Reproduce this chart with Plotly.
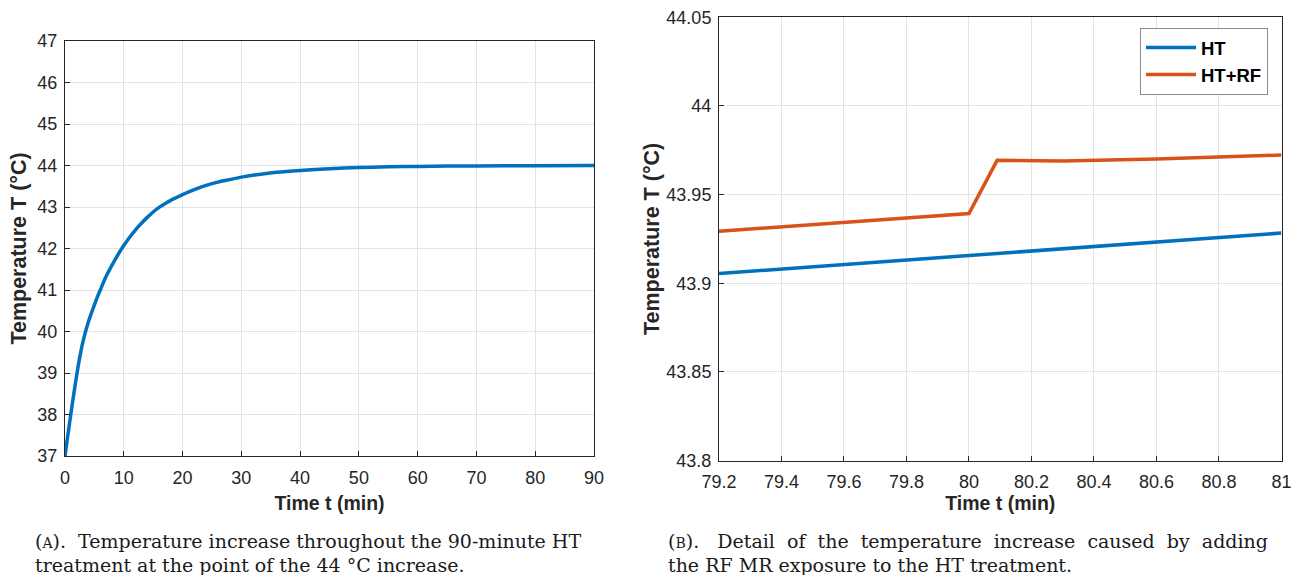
import plotly.graph_objects as go

# ---- data ----
t_full = [0, 0.5, 1, 1.5, 2, 2.5, 3, 3.5, 4, 4.5, 5, 5.5, 6, 7, 8, 9, 10, 11, 12, 13, 14, 15, 16, 17, 18, 19,
          20, 22, 24, 26, 28, 30, 33, 36, 40, 45, 50, 55, 60, 70, 80, 90]
T_full = [37.0, 37.52, 38.02, 38.5, 38.96, 39.37, 39.72, 40.0, 40.24, 40.45, 40.64, 40.83, 41.0, 41.33, 41.6,
          41.85, 42.07, 42.27, 42.45, 42.61, 42.75, 42.88, 42.99, 43.08, 43.16, 43.23, 43.3, 43.42, 43.52,
          43.6, 43.66, 43.72, 43.785, 43.835, 43.88, 43.922, 43.95, 43.967, 43.978, 43.99, 43.995, 43.997]

t_zoom_ht = [79.2, 79.6, 80.0, 80.4, 80.8, 81.0]
T_zoom_ht = [43.9055, 43.9105, 43.9157, 43.9208, 43.9258, 43.9283]

t_zoom_rf = [79.2, 79.6, 80.0, 80.09, 80.3, 80.6, 80.8, 81.0]
T_zoom_rf = [43.9293, 43.9342, 43.9393, 43.9693, 43.9690, 43.9700, 43.9712, 43.9723]

left_xticks = [0, 10, 20, 30, 40, 50, 60, 70, 80, 90]
left_yticks = [37, 38, 39, 40, 41, 42, 43, 44, 45, 46, 47]
right_xticks = [79.2, 79.4, 79.6, 79.8, 80, 80.2, 80.4, 80.6, 80.8, 81]
right_xtext = ["79.2", "79.4", "79.6", "79.8", "80", "80.2", "80.4", "80.6", "80.8", "81"]
right_yticks = [43.8, 43.85, 43.9, 43.95, 44, 44.05]
right_ytext = ["43.8", "43.85", "43.9", "43.95", "44", "44.05"]

BLUE = "#0072BD"
ORANGE = "#D95319"
AX = "#262626"
GRID = "#e3e3e3"
W, H = 1291, 575

fig = go.Figure()
fig.add_trace(go.Scatter(x=t_full, y=T_full, mode="lines",
                         line=dict(color=BLUE, width=3.5, shape="spline", smoothing=0.8),
                         showlegend=False, xaxis="x", yaxis="y"))
fig.add_trace(go.Scatter(x=t_zoom_ht, y=T_zoom_ht, mode="lines", name="HT",
                         line=dict(color=BLUE, width=3.5), xaxis="x2", yaxis="y2"))
fig.add_trace(go.Scatter(x=t_zoom_rf, y=T_zoom_rf, mode="lines", name="HT+RF",
                         line=dict(color=ORANGE, width=3.5), xaxis="x2", yaxis="y2"))

tickfont = dict(family="Liberation Sans, Arial", size=18, color=AX)
xtitlefont = dict(family="Liberation Sans, Arial", size=19.5, color=AX)
ytitlefont = dict(family="Liberation Sans, Arial", size=21.5, color=AX)
common = dict(showline=True, linecolor=AX, linewidth=1, mirror=True, showgrid=True, gridcolor=GRID,
              gridwidth=1, ticks="inside", ticklen=5, tickcolor=AX, zeroline=False, tickfont=tickfont,
              automargin=False, ticklabeloverflow="allow")

fig.update_layout(
    width=W, height=H, margin=dict(l=0, r=0, t=0, b=0, autoexpand=False),
    paper_bgcolor="white", plot_bgcolor="white",
    xaxis=dict(domain=[65 / W, 594 / W], range=[0, 90], tickvals=left_xticks, anchor="y",
               ticklabelstandoff=5,
               title=dict(text="<b>Time t (min)</b>", font=xtitlefont, standoff=9), **common),
    yaxis=dict(domain=[(H - 456) / H, (H - 41) / H], range=[37, 47], tickvals=left_yticks, anchor="x",
               ticklabelstandoff=3,
               title=dict(text="<b>Temperature T (°C)</b>", font=ytitlefont, standoff=4), **common),
    xaxis2=dict(domain=[719 / W, 1281.5 / W], range=[79.2, 81.0002], tickvals=right_xticks, ticktext=right_xtext,
                anchor="y2", ticklabelstandoff=5,
                title=dict(text="<b>Time t (min)</b>", font=xtitlefont, standoff=0), **common),
    yaxis2=dict(domain=[(H - 460.5) / H, (H - 17.3) / H], range=[43.8, 44.05], tickvals=right_yticks,
                ticktext=right_ytext, anchor="x2", ticklabelstandoff=3,
                title=dict(text="<b>Temperature T (°C)</b>", font=ytitlefont, standoff=0), **common),
    legend=dict(x=1140 / W, y=(H - 28) / H, xanchor="left", yanchor="top", bgcolor="white",
                bordercolor="#8a8a8a", borderwidth=1,
                font=dict(family="Liberation Sans, Arial", size=18.5, color="black", weight="bold"),
                itemwidth=50, tracegroupgap=0),
)

capfont = dict(family="DejaVu Serif", size=19, color="#1a1a1a")
caps = [
    (33, 541, "(<span style='font-size:14px'>A</span>).&nbsp; Temperature increase throughout the 90-minute HT"),
    (33, 565, "treatment at the point of the 44&nbsp;°C increase."),
    (666, 541, "(<span style='font-size:14px'>B</span>).&nbsp;&nbsp; Detail&nbsp; of&nbsp; the&nbsp; temperature&nbsp; "
               "increase&nbsp; caused&nbsp; by&nbsp; adding"),
    (666, 565, "the RF MR exposure to the HT treatment."),
]
for x, y, txt in caps:
    fig.add_annotation(x=x / W, y=(H - y) / H, xref="paper", yref="paper", xanchor="left", yanchor="middle",
                       text=txt, showarrow=False, font=capfont)

fig.write_html("out.html", config={"displayModeBar": False},
               post_script="document.body.style.margin='0';document.body.style.overflow='hidden';")
